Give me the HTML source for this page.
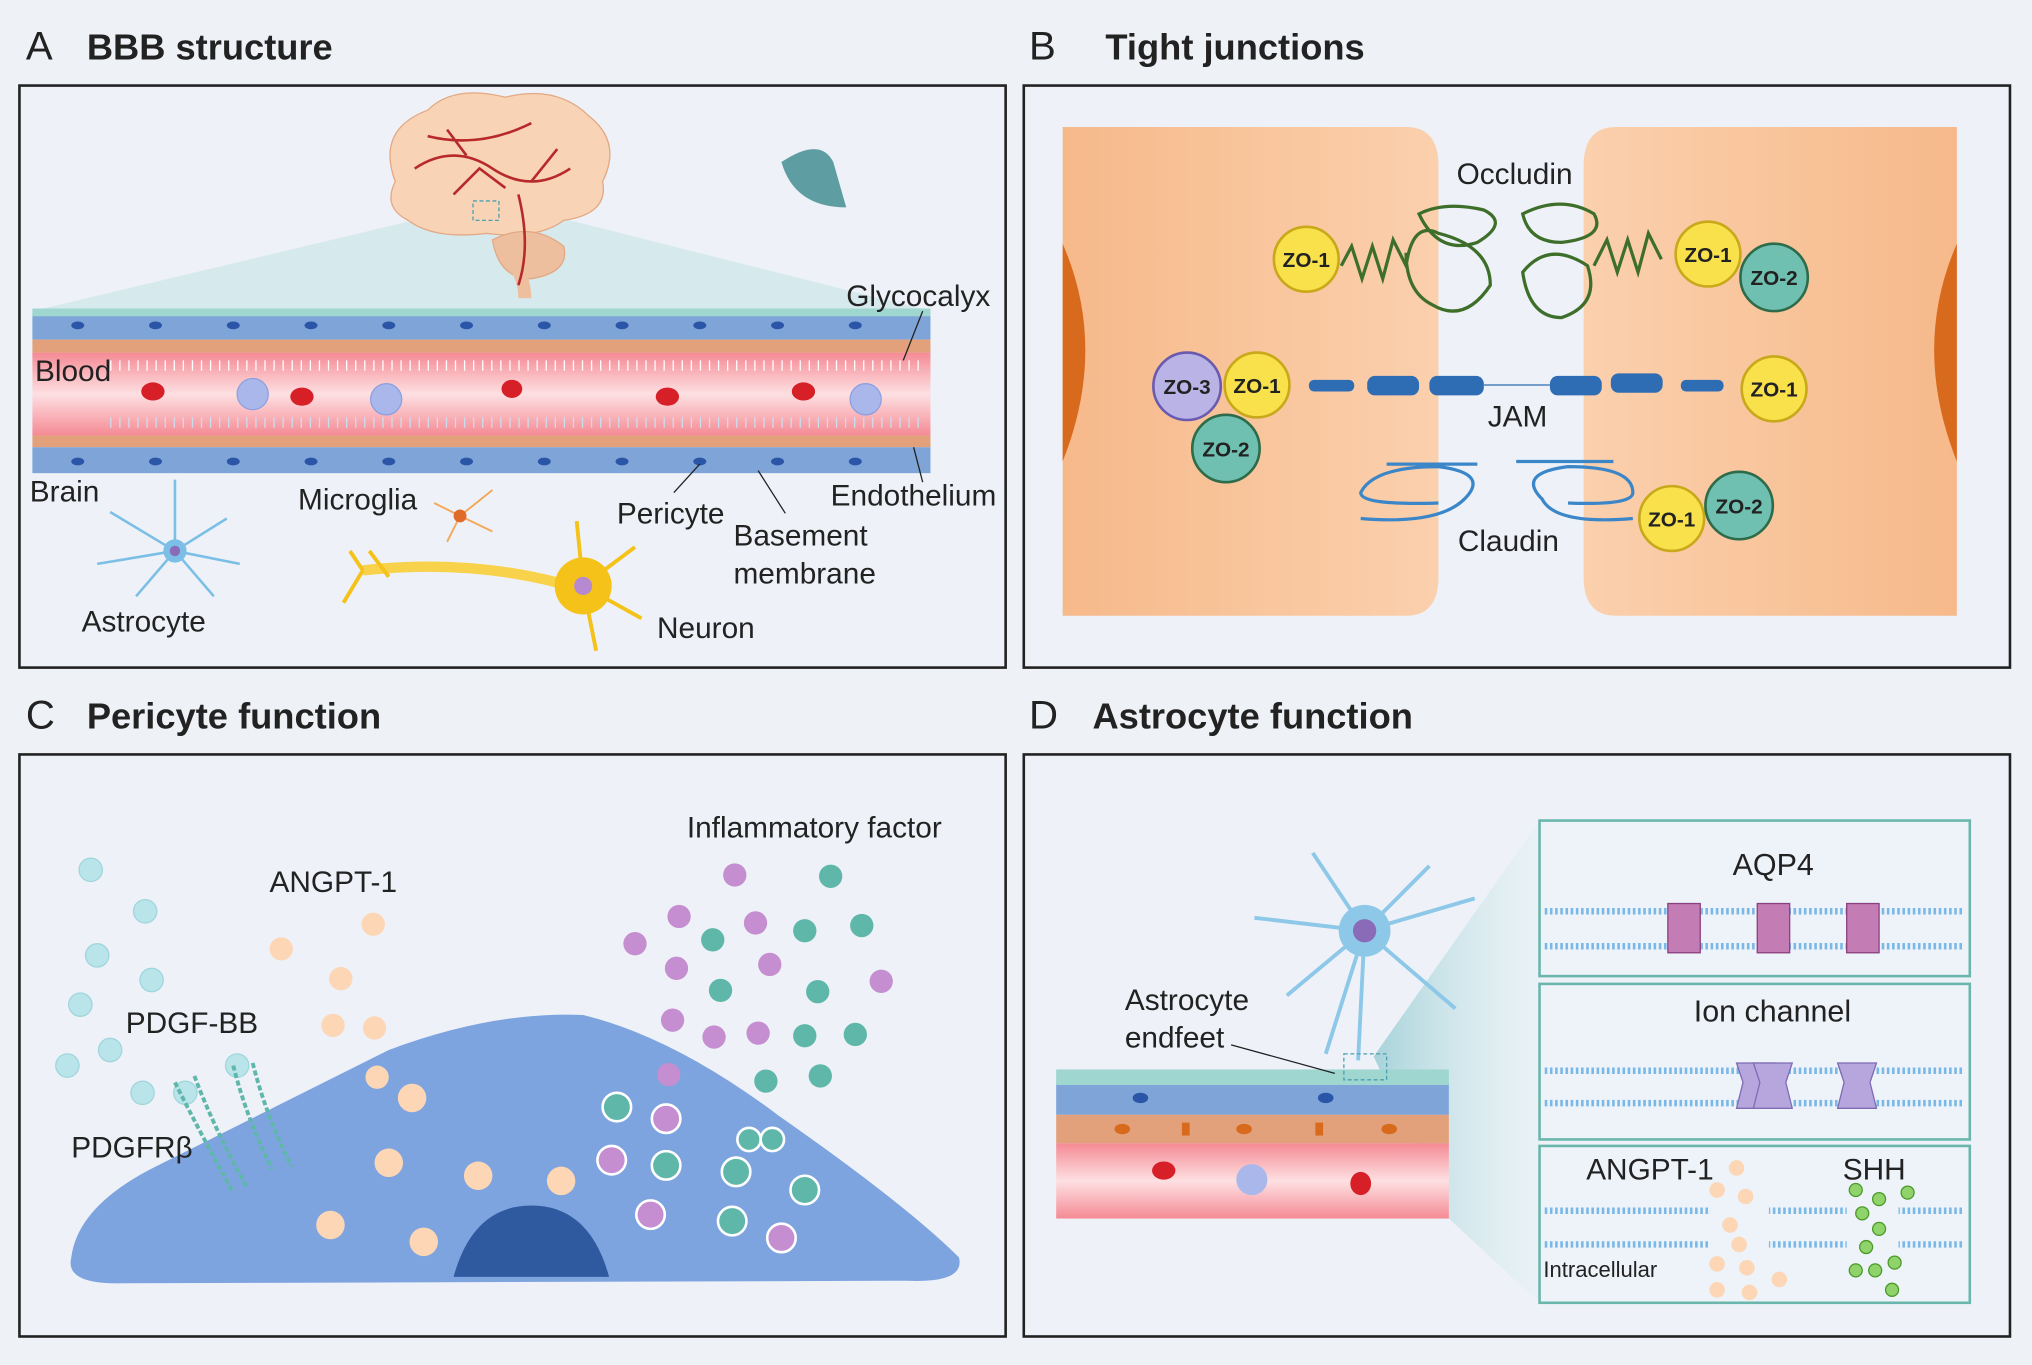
<!DOCTYPE html>
<html><head><meta charset="utf-8"><style>
html,body{margin:0;padding:0;background:#fff}
svg{display:block}
text{font-family:"Liberation Sans",sans-serif;fill:#222}
</style></head><body>
<svg width="2032" height="1365" viewBox="0 0 1568 1053" preserveAspectRatio="none" xmlns="http://www.w3.org/2000/svg">
<defs>
<linearGradient id="blood" x1="0" y1="0" x2="0" y2="1"><stop offset="0" stop-color="#f58a94"/><stop offset="0.5" stop-color="#fde0e2"/><stop offset="1" stop-color="#f58a94"/></linearGradient>
<linearGradient id="cellL" x1="0" y1="0" x2="1" y2="0"><stop offset="0" stop-color="#f6b98a"/><stop offset="1" stop-color="#fbd0ad"/></linearGradient>
<linearGradient id="cellR" x1="0" y1="0" x2="1" y2="0"><stop offset="0" stop-color="#fbd0ad"/><stop offset="1" stop-color="#f6b98a"/></linearGradient>
<linearGradient id="cone" x1="0" y1="0" x2="1" y2="0"><stop offset="0" stop-color="#9fcfd6" stop-opacity="0.9"/><stop offset="1" stop-color="#dff0f2" stop-opacity="0.3"/></linearGradient>
</defs>
<rect x="0" y="0" width="1568" height="1053" fill="#eef2f7"/>
<!-- titles -->
<text x="20" y="46" font-size="31">A</text><text x="67" y="46" font-size="28" font-weight="bold">BBB structure</text>
<text x="794" y="46" font-size="31">B</text><text x="853" y="46" font-size="28" font-weight="bold">Tight junctions</text>
<text x="20" y="562" font-size="31">C</text><text x="67" y="562" font-size="28" font-weight="bold">Pericyte function</text>
<text x="794" y="562" font-size="31">D</text><text x="843" y="562" font-size="28" font-weight="bold">Astrocyte function</text>
<!-- panel boxes -->
<rect x="15" y="66" width="761" height="449" fill="#eef2f8" stroke="#222" stroke-width="2"/>
<rect x="790" y="66" width="761" height="449" fill="#eef2f8" stroke="#222" stroke-width="2"/>
<rect x="15" y="582" width="761" height="449" fill="#eef2f8" stroke="#222" stroke-width="2"/>
<rect x="790" y="582" width="761" height="449" fill="#eef2f8" stroke="#222" stroke-width="2"/>

<!-- PANEL A -->
<polygon points="340,165 420,165 718,240 25,240" fill="#cfe6e9" opacity="0.8"/>
<path d="M305,140 q-15,-40 25,-55 q20,-20 60,-10 q40,-10 65,15 q25,20 10,50 q5,25 -30,30 q-20,15 -60,10 q-40,5 -60,-10 q-20,-10 -10,-30z" fill="#f8d3b6" stroke="#e3a883"/>
<path d="M380,185 q30,-15 55,5 q5,20 -25,25 q-25,0 -30,-30z" fill="#eebf9f" stroke="#e3a883"/>
<path d="M395,200 q10,15 10,30" stroke="#eebf9f" stroke-width="10" fill="none"/>
<path d="M320,130 q30,-20 60,0 t60,0 M330,105 q40,10 80,-10 M350,150 l20,-20 l20,15 M400,150 q10,40 0,70 M410,140 l20,-25 M360,120 l-15,-20" stroke="#b7292b" stroke-width="2" fill="none"/>
<rect x="365" y="155" width="20" height="15" fill="none" stroke="#4a9fb0" stroke-dasharray="3,2"/>
<path d="M603,125 q30,-20 40,0 l10,35 q-40,0 -50,-35z" fill="#5e9ea3"/>
<rect x="25" y="242" width="693" height="20" fill="#7ea4d8"/>
<rect x="25" y="238" width="693" height="6" fill="#9fd6cf"/>
<rect x="25" y="262" width="693" height="10" fill="#e3a17b"/>
<rect x="25" y="272" width="693" height="64" fill="url(#blood)"/>
<rect x="25" y="336" width="693" height="9" fill="#e3a17b"/>
<rect x="25" y="345" width="693" height="20" fill="#7ea4d8"/>
<g fill="#2b56a8">
<ellipse cx="60" cy="251" rx="5" ry="3"/><ellipse cx="120" cy="251" rx="5" ry="3"/><ellipse cx="180" cy="251" rx="5" ry="3"/><ellipse cx="240" cy="251" rx="5" ry="3"/><ellipse cx="300" cy="251" rx="5" ry="3"/><ellipse cx="360" cy="251" rx="5" ry="3"/><ellipse cx="420" cy="251" rx="5" ry="3"/><ellipse cx="480" cy="251" rx="5" ry="3"/><ellipse cx="540" cy="251" rx="5" ry="3"/><ellipse cx="600" cy="251" rx="5" ry="3"/><ellipse cx="660" cy="251" rx="5" ry="3"/>
<ellipse cx="60" cy="356" rx="5" ry="3"/><ellipse cx="120" cy="356" rx="5" ry="3"/><ellipse cx="180" cy="356" rx="5" ry="3"/><ellipse cx="240" cy="356" rx="5" ry="3"/><ellipse cx="300" cy="356" rx="5" ry="3"/><ellipse cx="360" cy="356" rx="5" ry="3"/><ellipse cx="420" cy="356" rx="5" ry="3"/><ellipse cx="480" cy="356" rx="5" ry="3"/><ellipse cx="540" cy="356" rx="5" ry="3"/><ellipse cx="600" cy="356" rx="5" ry="3"/><ellipse cx="660" cy="356" rx="5" ry="3"/>
</g>
<line x1="85" y1="282" x2="715" y2="282" stroke="#fff" stroke-width="8" stroke-dasharray="1,6"/>
<line x1="85" y1="326" x2="715" y2="326" stroke="#c9dff0" stroke-width="8" stroke-dasharray="1,6"/>
<g fill="#d61f26"><ellipse cx="118" cy="302" rx="9" ry="7"/><ellipse cx="233" cy="306" rx="9" ry="7"/><ellipse cx="395" cy="300" rx="8" ry="7"/><ellipse cx="515" cy="306" rx="9" ry="7"/><ellipse cx="620" cy="302" rx="9" ry="7"/></g>
<g fill="#a9b7ea" stroke="#8ea0e0"><circle cx="195" cy="304" r="12"/><circle cx="298" cy="308" r="12"/><circle cx="668" cy="308" r="12"/></g>
<text x="27" y="294" font-size="23">Blood</text>
<text x="653" y="236" font-size="23">Glycocalyx</text>
<text x="23" y="387" font-size="23">Brain</text>
<text x="230" y="393" font-size="23">Microglia</text>
<text x="476" y="404" font-size="23">Pericyte</text>
<text x="566" y="421" font-size="23">Basement</text>
<text x="566" y="450" font-size="23">membrane</text>
<text x="641" y="390" font-size="23">Endothelium</text>
<text x="63" y="487" font-size="23">Astrocyte</text>
<text x="507" y="492" font-size="23">Neuron</text>
<g stroke="#222" stroke-width="1"><line x1="520" y1="380" x2="540" y2="358"/><line x1="606" y1="396" x2="585" y2="363"/><line x1="712" y1="372" x2="705" y2="345"/><line x1="697" y1="278" x2="712" y2="240"/></g>
<g stroke="#7bbfe6" stroke-width="2" fill="none"><path d="M135,425 l-50,-30 M135,425 l40,-25 M135,425 l-60,10 M135,425 l50,10 M135,425 l-30,35 M135,425 l30,35 M135,425 l0,-55"/></g>
<circle cx="135" cy="425" r="9" fill="#7bbfe6"/><circle cx="135" cy="425" r="4" fill="#8a6bb8"/>
<g stroke="#f4a85c" stroke-width="1.5" fill="none"><path d="M355,398 l-20,-10 M355,398 l25,-20 M355,398 l-10,20 M355,398 l25,12"/></g>
<circle cx="355" cy="398" r="5" fill="#e06a2a"/>
<path d="M280,440 q90,-10 170,15" stroke="#f8d24a" stroke-width="8" fill="none"/>
<g stroke="#f5c21a" stroke-width="3" fill="none"><path d="M450,452 l40,-30 M450,452 l45,25 M450,452 l10,50 M450,452 l-5,-50 M280,440 l-10,-15 M280,440 l-15,25 M300,445 l-15,-20"/></g>
<circle cx="450" cy="452" r="22" fill="#f5c21a"/><circle cx="450" cy="452" r="7" fill="#b58ad0"/>

<!-- PANEL B -->
<path d="M820,98 H1085 q25,0 25,30 V445 q0,30 -25,30 H820z" fill="url(#cellL)"/>
<path d="M1510,98 H1247 q-25,0 -25,30 V445 q0,30 25,30 H1510z" fill="url(#cellR)"/>
<path d="M820,188 q35,80 0,168z" fill="#d86a1e"/>
<path d="M1510,188 q-35,80 0,168z" fill="#d86a1e"/>
<g stroke="#3d6e2a" stroke-width="2.5" fill="none">
<path d="M1035,205 l8,-15 l8,25 l8,-25 l8,25 l8,-30 l10,20 q5,-35 25,-25 q40,10 40,40 q-20,30 -45,15 q-20,-10 -20,-40"/>
<path d="M1095,165 q20,-10 50,-3 q20,10 -5,25 q-30,10 -45,-22z"/>
<path d="M1175,165 q30,-15 55,0 q10,18 -25,22 q-25,0 -30,-22z"/>
<path d="M1175,210 q20,-25 50,-5 q10,30 -20,40 q-25,0 -30,-35z M1230,205 l10,-20 l8,25 l8,-25 l8,25 l8,-30 l10,20"/>
</g>
<g fill="#2e6db3"><rect x="1010" y="293" width="35" height="9" rx="4"/><rect x="1055" y="290" width="40" height="15" rx="6"/><rect x="1103" y="290" width="42" height="15" rx="6"/><rect x="1196" y="290" width="40" height="15" rx="6"/><rect x="1243" y="288" width="40" height="15" rx="6"/><rect x="1297" y="293" width="33" height="9" rx="4"/></g>
<line x1="1145" y1="297" x2="1196" y2="297" stroke="#2e6db3"/>
<g stroke="#3b86c8" stroke-width="2.5" fill="none">
<path d="M1050,400 q60,5 80,-15 q20,-20 -20,-25 q-50,0 -60,20 q0,10 60,8 M1140,358 l-70,0"/>
<path d="M1260,400 q-60,5 -70,-15 q-20,-20 20,-25 q50,0 50,20 q0,10 -50,8 M1170,356 l75,0"/>
</g>
<text x="1124" y="142" font-size="23">Occludin</text>
<text x="1148" y="329" font-size="23">JAM</text>
<text x="1125" y="425" font-size="23">Claudin</text>
<g font-size="16" font-weight="bold" text-anchor="middle">
<circle cx="1008" cy="200" r="25" fill="#f8e14a" stroke="#c9a81a" stroke-width="2"/><text x="1008" y="206">ZO-1</text>
<circle cx="1318" cy="196" r="25" fill="#f8e14a" stroke="#c9a81a" stroke-width="2"/><text x="1318" y="202">ZO-1</text>
<circle cx="1369" cy="214" r="26" fill="#6fc0b0" stroke="#2d6b4a" stroke-width="2"/><text x="1369" y="220">ZO-2</text>
<circle cx="916" cy="298" r="26" fill="#b9b3e6" stroke="#6a5ab0" stroke-width="2"/><text x="916" y="304">ZO-3</text>
<circle cx="970" cy="297" r="25" fill="#f8e14a" stroke="#c9a81a" stroke-width="2"/><text x="970" y="303">ZO-1</text>
<circle cx="946" cy="346" r="26" fill="#6fc0b0" stroke="#2d6b4a" stroke-width="2"/><text x="946" y="352">ZO-2</text>
<circle cx="1369" cy="300" r="25" fill="#f8e14a" stroke="#c9a81a" stroke-width="2"/><text x="1369" y="306">ZO-1</text>
<circle cx="1290" cy="400" r="25" fill="#f8e14a" stroke="#c9a81a" stroke-width="2"/><text x="1290" y="406">ZO-1</text>
<circle cx="1342" cy="390" r="26" fill="#6fc0b0" stroke="#2d6b4a" stroke-width="2"/><text x="1342" y="396">ZO-2</text>
</g>

<!-- PANEL C -->
<path d="M55,970 Q60,930 120,900 L300,810 Q380,780 450,783 Q520,800 600,860 Q700,930 740,970 Q745,990 700,988 L90,990 Q50,990 55,970z" fill="#7ea4e0"/>
<path d="M350,985 q15,-55 60,-55 q45,0 60,55z" fill="#2f5aa0"/>
<g fill="#b9e5ea" stroke="#9fd6dc">
<circle cx="70" cy="671" r="9"/><circle cx="112" cy="703" r="9"/><circle cx="75" cy="737" r="9"/><circle cx="117" cy="756" r="9"/><circle cx="62" cy="775" r="9"/><circle cx="52" cy="822" r="9"/><circle cx="85" cy="810" r="9"/><circle cx="110" cy="843" r="9"/><circle cx="143" cy="843" r="9"/><circle cx="183" cy="822" r="9"/></g>
<g fill="#fcd6b5"><circle cx="288" cy="713" r="9"/><circle cx="217" cy="732" r="9"/><circle cx="263" cy="755" r="9"/><circle cx="257" cy="791" r="9"/><circle cx="289" cy="793" r="9"/><circle cx="291" cy="831" r="9"/><circle cx="318" cy="847" r="11"/><circle cx="300" cy="897" r="11"/><circle cx="369" cy="907" r="11"/><circle cx="433" cy="911" r="11"/><circle cx="255" cy="945" r="11"/><circle cx="327" cy="958" r="11"/></g>
<g fill="#c48ed0"><circle cx="567" cy="675" r="9"/><circle cx="524" cy="707" r="9"/><circle cx="490" cy="728" r="9"/><circle cx="583" cy="712" r="9"/><circle cx="522" cy="747" r="9"/><circle cx="594" cy="744" r="9"/><circle cx="680" cy="757" r="9"/><circle cx="519" cy="787" r="9"/><circle cx="551" cy="800" r="9"/><circle cx="585" cy="797" r="9"/><circle cx="516" cy="829" r="9"/></g>
<g fill="#5fb7aa"><circle cx="641" cy="676" r="9"/><circle cx="550" cy="725" r="9"/><circle cx="621" cy="718" r="9"/><circle cx="665" cy="714" r="9"/><circle cx="556" cy="764" r="9"/><circle cx="631" cy="765" r="9"/><circle cx="621" cy="799" r="9"/><circle cx="660" cy="798" r="9"/><circle cx="591" cy="834" r="9"/><circle cx="633" cy="830" r="9"/></g>
<g stroke="#fff" stroke-width="2"><circle cx="476" cy="854" r="11" fill="#5fb7aa"/><circle cx="514" cy="863" r="11" fill="#c48ed0"/><circle cx="472" cy="895" r="11" fill="#c48ed0"/><circle cx="514" cy="899" r="11" fill="#5fb7aa"/><circle cx="578" cy="879" r="9" fill="#5fb7aa"/><circle cx="596" cy="879" r="9" fill="#5fb7aa"/><circle cx="568" cy="904" r="11" fill="#5fb7aa"/><circle cx="621" cy="918" r="11" fill="#5fb7aa"/><circle cx="502" cy="937" r="11" fill="#c48ed0"/><circle cx="565" cy="942" r="11" fill="#5fb7aa"/><circle cx="603" cy="955" r="11" fill="#c48ed0"/></g>
<g stroke="#5fb7aa" stroke-width="3" fill="none" stroke-dasharray="4,2"><path d="M135,835 q20,40 45,85 M150,830 q15,40 40,85 M180,822 q10,40 30,80 M195,820 q10,40 30,80"/></g>
<text x="208" y="688" font-size="23">ANGPT-1</text>
<text x="97" y="797" font-size="23">PDGF-BB</text>
<text x="55" y="893" font-size="23">PDGFRβ</text>
<text x="530" y="646" font-size="23">Inflammatory factor</text>

<!-- PANEL D -->
<polygon points="1060,815 1188,633 1188,1005 1118,940" fill="url(#cone)"/>
<rect x="815" y="835" width="303" height="25" fill="#7ea4d8"/>
<rect x="815" y="825" width="303" height="12" fill="#9fd6cf"/>
<rect x="815" y="860" width="303" height="22" fill="#e3a17b"/>
<rect x="815" y="882" width="303" height="58" fill="url(#blood)"/>
<g fill="#2b56a8"><ellipse cx="880" cy="847" rx="6" ry="4"/><ellipse cx="1023" cy="847" rx="6" ry="4"/></g>
<g fill="#d86a1e"><ellipse cx="866" cy="871" rx="6" ry="4"/><ellipse cx="960" cy="871" rx="6" ry="4"/><ellipse cx="1072" cy="871" rx="6" ry="4"/><rect x="912" y="866" width="6" height="10"/><rect x="1015" y="866" width="6" height="10"/></g>
<ellipse cx="898" cy="903" rx="9" ry="7" fill="#d61f26"/><ellipse cx="1050" cy="913" rx="8" ry="9" fill="#d61f26"/><circle cx="966" cy="910" r="12" fill="#a9b7ea"/>
<g stroke="#8ec8e8" stroke-width="3" fill="none"><path d="M1053,718 l-40,-60 M1053,718 l50,-50 M1053,718 l85,-25 M1053,718 l-85,-10 M1053,718 l-60,50 M1053,718 l-5,100 M1053,718 l70,60 M1053,718 l-30,95"/></g>
<circle cx="1053" cy="718" r="20" fill="#8ec8e8"/><circle cx="1053" cy="718" r="9" fill="#8a6bb8"/>
<rect x="1037" y="813" width="33" height="20" fill="none" stroke="#4a9fb0" stroke-dasharray="3,2"/>
<line x1="950" y1="806" x2="1030" y2="828" stroke="#222"/>
<text x="868" y="779" font-size="23">Astrocyte</text>
<text x="868" y="808" font-size="23">endfeet</text>
<g fill="#eef3f9" stroke="#6ab6ad" stroke-width="2"><rect x="1188" y="633" width="332" height="120"/><rect x="1188" y="759" width="332" height="120"/><rect x="1188" y="884" width="332" height="121"/></g>
<g stroke="#7ab8e8" stroke-width="5" stroke-dasharray="2,2"><line x1="1192" y1="703" x2="1516" y2="703"/><line x1="1192" y1="730" x2="1516" y2="730"/><line x1="1192" y1="826" x2="1516" y2="826"/><line x1="1192" y1="851" x2="1516" y2="851"/><line x1="1192" y1="934" x2="1516" y2="934"/><line x1="1192" y1="960" x2="1516" y2="960"/></g>
<g fill="#c47db4" stroke="#8a3f7f"><rect x="1287" y="697" width="25" height="38"/><rect x="1356" y="697" width="25" height="38"/><rect x="1425" y="697" width="25" height="38"/></g>
<g fill="#b7a6dd" stroke="#7d6bb3"><path d="M1340,820 h30 l-5,15 l5,20 h-30 l5,-20z"/><path d="M1353,820 h30 l-5,15 l5,20 h-30 l5,-20z"/><path d="M1418,820 h30 l-5,15 l5,20 h-30 l5,-20z"/></g>
<rect x="1320" y="925" width="45" height="45" fill="#eef3f9"/><rect x="1425" y="925" width="40" height="45" fill="#eef3f9"/>
<g fill="#fcd6b5"><circle cx="1340" cy="901" r="6"/><circle cx="1325" cy="918" r="6"/><circle cx="1347" cy="923" r="6"/><circle cx="1335" cy="945" r="6"/><circle cx="1342" cy="960" r="6"/><circle cx="1325" cy="975" r="6"/><circle cx="1348" cy="978" r="6"/><circle cx="1325" cy="995" r="6"/><circle cx="1350" cy="997" r="6"/><circle cx="1373" cy="987" r="6"/></g>
<g fill="#8fd36a" stroke="#4a9a2a"><circle cx="1432" cy="918" r="5"/><circle cx="1450" cy="925" r="5"/><circle cx="1472" cy="920" r="5"/><circle cx="1437" cy="936" r="5"/><circle cx="1450" cy="948" r="5"/><circle cx="1440" cy="962" r="5"/><circle cx="1432" cy="980" r="5"/><circle cx="1447" cy="980" r="5"/><circle cx="1462" cy="974" r="5"/><circle cx="1460" cy="995" r="5"/></g>
<text x="1337" y="675" font-size="23.5">AQP4</text>
<text x="1307" y="788" font-size="23.5">Ion channel</text>
<text x="1224" y="910" font-size="23">ANGPT-1</text>
<text x="1422" y="910" font-size="23">SHH</text>
<text x="1191" y="985" font-size="17">Intracellular</text>
</svg>
</body></html>
